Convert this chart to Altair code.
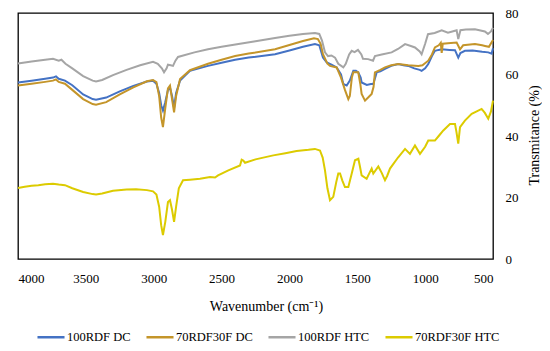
import altair as alt
import pandas as pd

series_names = ["100RDF DC", "70RDF30F DC", "100RDF HTC", "70RDF30F HTC"]
series_colors = ["#4472C4", "#C4952A", "#A5A5A5", "#DCCB00"]

# 100RDF DC
blue_wn = [4000, 3900, 3800, 3742, 3720, 3700, 3654, 3600, 3520, 3450, 3425, 3350, 3250, 3150, 3050, 3005,
           2980, 2960, 2945, 2932, 2915, 2895, 2880, 2865, 2850, 2835, 2806, 2733, 2600, 2500, 2400, 2300,
           2106, 2000, 1900, 1812, 1780, 1753, 1725, 1690, 1652, 1620, 1603, 1578, 1555, 1529, 1510, 1493,
           1475, 1468, 1430, 1400, 1382, 1357, 1330, 1296, 1250, 1198, 1160, 1124, 1080, 1040, 1026, 1000,
           977, 950, 928, 900, 878, 820, 780, 756, 740, 707, 650, 580, 535, 510, 500]
blue_t = [57.4, 58.0, 58.6, 59.0, 59.4, 58.6, 58.0, 56.5, 53.5, 52.0, 51.8, 52.5, 54.5, 56.3, 57.7, 58.0,
          57.0, 54.0, 50.0, 48.3, 51.0, 55.0, 55.7, 53.0, 49.2, 54.0, 58.0, 61.2, 62.8, 63.8, 64.8, 65.5,
          66.6, 67.8, 69.0, 69.9, 69.5, 65.5, 63.9, 63.2, 62.3, 60.0, 56.9, 56.4, 58.0, 61.2, 61.2, 60.7,
          59.0, 57.4, 56.6, 56.9, 56.9, 60.7, 61.0, 61.8, 62.8, 63.4, 63.0, 62.8, 62.0, 61.5, 61.2, 62.0,
          63.4, 66.0, 67.7, 68.0, 68.2, 68.0, 67.9, 65.5, 67.0, 67.7, 67.8, 67.4, 67.2, 66.8, 68.5]

# 70RDF30F DC
orange_wn = [4000, 3900, 3800, 3742, 3720, 3700, 3654, 3600, 3520, 3450, 3425, 3350, 3250, 3150, 3050, 3005,
             2980, 2960, 2945, 2932, 2915, 2895, 2880, 2865, 2850, 2835, 2806, 2733, 2600, 2500, 2400, 2300,
             2106, 2000, 1900, 1819, 1790, 1770, 1753, 1720, 1701, 1652, 1620, 1591, 1566, 1555, 1540, 1529,
             1493, 1478, 1468, 1443, 1420, 1394, 1380, 1370, 1330, 1296, 1250, 1198, 1124, 1050, 1020, 977,
             950, 928, 900, 885, 878, 870, 832, 768, 743, 720, 633, 580, 559, 530, 500]
orange_t = [56.4, 57.0, 57.6, 58.0, 58.4, 57.6, 57.0, 55.0, 52.0, 50.4, 50.2, 51.0, 53.5, 55.8, 57.8, 58.2,
            57.5, 53.0, 46.0, 42.9, 49.0, 55.5, 56.4, 52.0, 47.7, 53.0, 58.5, 61.4, 63.5, 64.8, 66.0, 66.8,
            68.2, 69.6, 70.9, 71.8, 71.5, 70.0, 66.6, 63.5, 62.8, 62.3, 59.0, 55.0, 52.0, 53.0, 59.0, 60.7,
            60.7, 57.0, 53.7, 51.5, 52.5, 53.7, 56.0, 60.7, 61.5, 62.3, 63.0, 63.4, 63.0, 62.8, 63.0, 64.5,
            66.5, 68.8, 69.5, 70.3, 67.0, 70.0, 70.2, 70.4, 68.2, 69.5, 69.9, 69.5, 69.3, 69.0, 71.2]

# 100RDF HTC
gray_wn = [4000, 3900, 3800, 3742, 3700, 3680, 3650, 3600, 3520, 3450, 3425, 3380, 3300, 3200, 3100, 3005,
           2970, 2940, 2924, 2905, 2895, 2875, 2858, 2840, 2821, 2700, 2600, 2500, 2364, 2250, 2106, 2000,
           1900, 1812, 1780, 1760, 1738, 1716, 1690, 1664, 1640, 1603, 1585, 1560, 1541, 1520, 1495, 1470,
           1458, 1420, 1384, 1370, 1320, 1247, 1200, 1148, 1100, 1075, 1040, 1026, 1000, 979, 930, 878,
           832, 800, 768, 756, 740, 700, 633, 560, 537, 515, 500]
gray_t = [63.6, 64.2, 64.8, 65.1, 64.5, 64.8, 63.5, 62.0, 59.5, 58.0, 57.7, 58.2, 59.8, 61.5, 63.0, 64.1,
          63.5, 62.0, 60.7, 62.0, 63.2, 63.0, 62.8, 64.5, 65.7, 67.2, 68.2, 69.0, 70.0, 70.8, 71.9, 72.6,
          73.2, 73.5, 73.2, 71.0, 67.2, 66.0, 66.2, 65.5, 63.5, 62.3, 63.5, 66.5, 67.7, 67.3, 68.0, 66.5,
          65.1, 65.0, 64.5, 66.0, 66.5, 67.2, 68.3, 69.9, 69.2, 68.8, 67.5, 66.6, 70.0, 73.1, 73.5, 74.4,
          73.6, 74.0, 74.4, 71.5, 74.4, 74.6, 74.7, 74.0, 73.2, 74.0, 75.2]

# 70RDF30F HTC
yellow_wn = [4000, 3950, 3900, 3850, 3800, 3742, 3700, 3654, 3600, 3520, 3450, 3425, 3380, 3300, 3200, 3130,
             3050, 3005, 2980, 2960, 2945, 2932, 2915, 2895, 2880, 2865, 2850, 2835, 2815, 2784, 2733, 2659,
             2585, 2548, 2526, 2450, 2364, 2352, 2340, 2327, 2250, 2119, 2030, 1947, 1860, 1812, 1775, 1755,
             1738, 1720, 1701, 1677, 1655, 1640, 1627, 1610, 1591, 1566, 1540, 1517, 1492, 1480, 1468, 1431,
             1410, 1394, 1382, 1345, 1320, 1296, 1280, 1259, 1200, 1148, 1112, 1075, 1038, 1000, 977, 928,
             900, 866, 817, 780, 770, 756, 743, 707, 657, 620, 584, 560, 535, 515, 500]
yellow_t = [23.1, 23.5, 23.8, 24.0, 24.3, 24.5, 24.2, 24.0, 23.0, 21.8, 21.1, 21.0, 21.3, 22.2, 22.6, 22.7,
            22.4, 22.0, 21.0, 17.0, 11.0, 7.8, 12.0, 18.5, 19.1, 16.0, 12.1, 17.0, 23.0, 25.6, 25.8, 26.1,
            26.7, 26.5, 27.2, 28.8, 30.4, 32.3, 32.0, 31.3, 32.4, 33.7, 34.4, 35.1, 35.5, 35.8, 35.3, 33.0,
            28.8, 23.0, 19.1, 20.2, 25.0, 27.8, 27.8, 25.5, 23.4, 23.4, 28.0, 32.1, 32.6, 30.0, 27.2, 26.1,
            28.0, 29.4, 27.8, 30.1, 28.0, 25.6, 27.0, 29.4, 33.0, 35.8, 34.2, 36.9, 34.2, 36.5, 38.5, 38.5,
            40.0, 41.8, 43.9, 43.9, 41.5, 37.5, 42.9, 45.0, 47.2, 48.0, 48.8, 47.5, 45.6, 48.0, 51.5]

x_ticks = [500, 1000, 1500, 2000, 2500, 3000, 3500, 4000]
y_ticks = [0, 20, 40, 60, 80]

frames = []
for name, wn, t, order in [
    (series_names[0], blue_wn, blue_t, 0),
    (series_names[1], orange_wn, orange_t, 1),
    (series_names[2], gray_wn, gray_t, 2),
    (series_names[3], yellow_wn, yellow_t, 3),
]:
    frames.append(pd.DataFrame({"wn": wn, "t": t, "series": name, "ord": order}))
df = pd.concat(frames, ignore_index=True)

FONT = "Liberation Serif"

chart = alt.Chart(df).mark_line(strokeWidth=2).encode(
    x=alt.X("wn:Q",
            scale=alt.Scale(domain=[500, 4000], reverse=True, nice=False, zero=False),
            axis=alt.Axis(values=x_ticks, title="Wavenumber (cm\u207b\u00b9)", orient="bottom",
                          labelFont=FONT, labelFontSize=13, labelColor="black",
                          labelPadding=13, titlePadding=14, titleX=248, format="d")),
    y=alt.Y("t:Q",
            scale=alt.Scale(domain=[0, 80], nice=False),
            axis=alt.Axis(values=y_ticks, title="Transmitance (%)", orient="right",
                          labelFont=FONT, labelFontSize=13, labelColor="black",
                          labelPadding=12, titleAngle=270, labelAlign="left",
                          titleX=41, titleY=122, titleAlign="center", titleBaseline="middle")),
    color=alt.Color("series:N",
                    scale=alt.Scale(domain=series_names, range=series_colors),
                    legend=alt.Legend(title=None, orient="none", legendX=26, legendY=317,
                                      direction="horizontal", columns=4,
                                      symbolType="M-2.5,0H2.5", symbolSize=117,
                                      symbolStrokeWidth=2.5, labelOffset=9,
                                      columnPadding=10, labelFont=FONT, labelFontSize=12.5,
                                      labelColor="black")),
    order=alt.Order("ord:Q"),
    detail="series:N",
).properties(
    width=475, height=246,
    autosize=alt.AutoSizeParams(type="none"),
    padding={"left": 10, "top": 5, "right": 49, "bottom": 84},
).configure_view(
    stroke="black", strokeWidth=1.3
).configure_axis(
    domain=False, ticks=False, grid=False,
    labelFont=FONT, labelFontSize=13, labelColor="black",
    titleFont=FONT, titleFontSize=14, titleFontWeight="normal", titleColor="black",
)

chart.save("out.html", embed_options={"renderer": "svg", "actions": False})
